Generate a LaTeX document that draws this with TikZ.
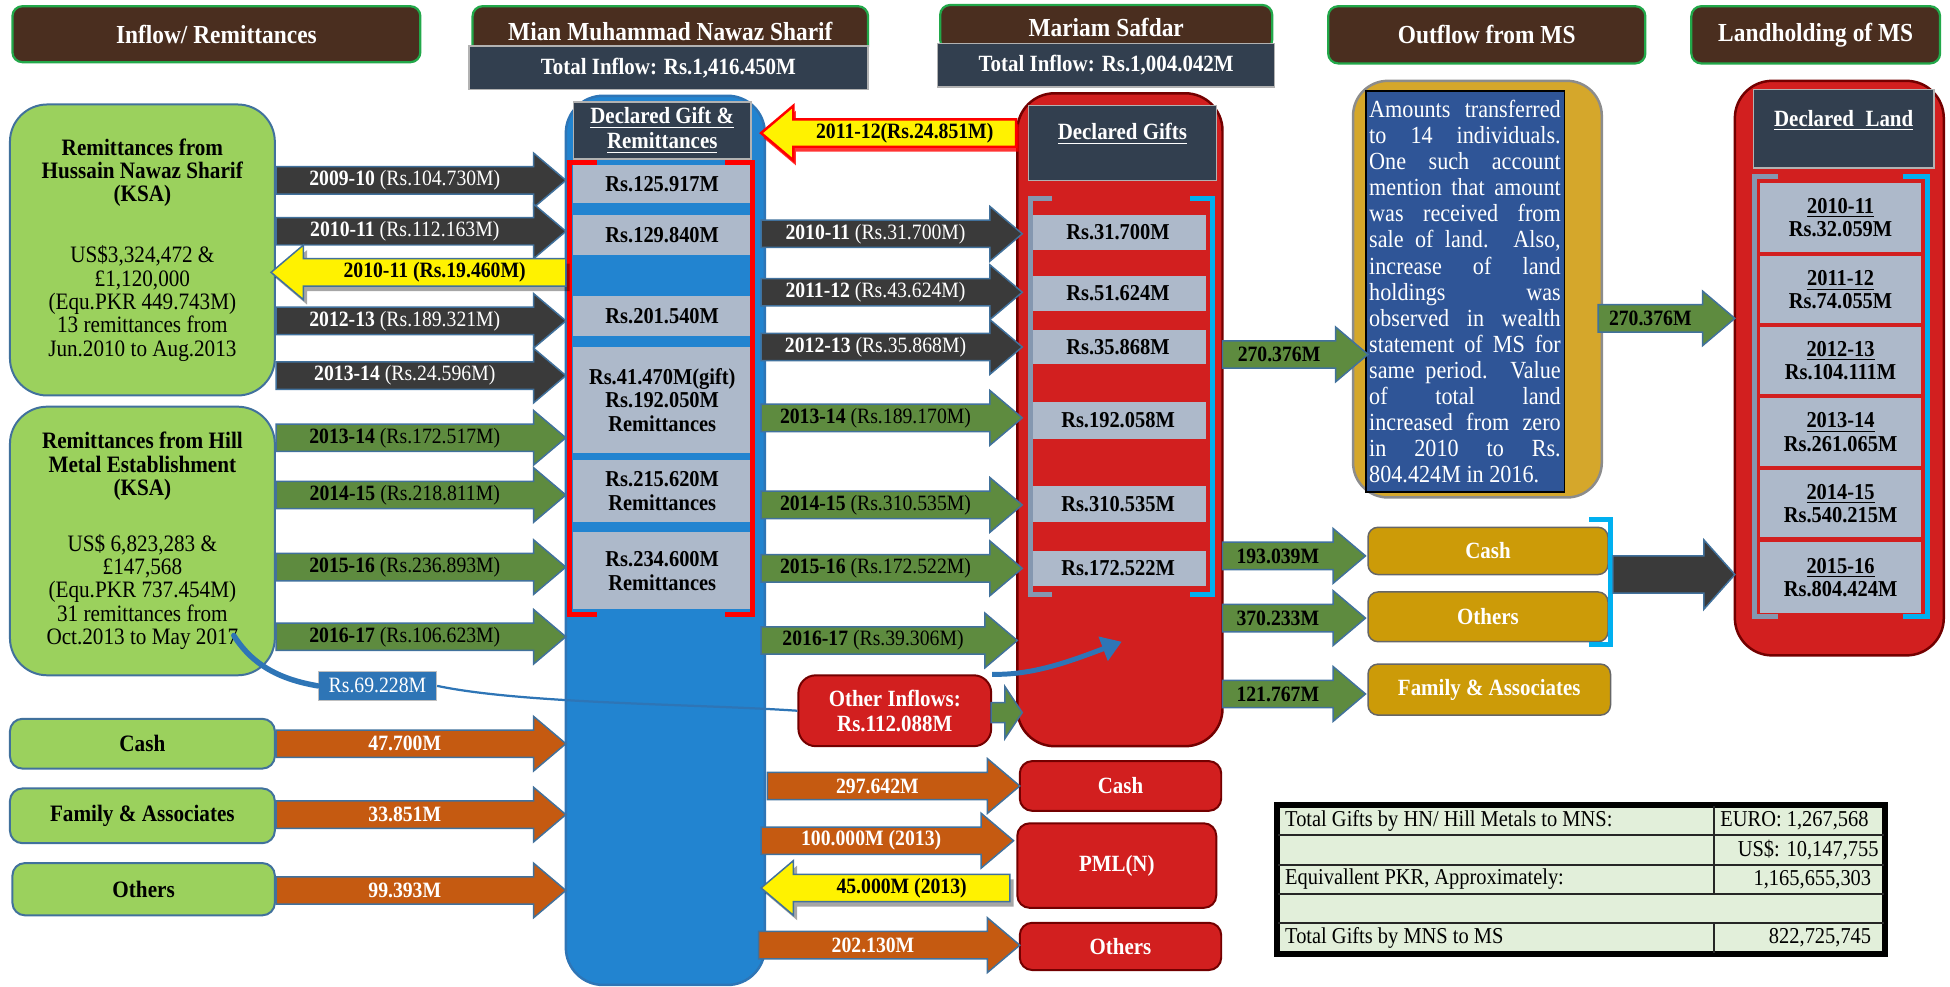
\documentclass[tikz,border=0pt]{standalone}
\usepackage{fontspec}
\setmainfont{Liberation Serif}[Scale=1.1, FakeStretch=0.9]
\usetikzlibrary{arrows.meta,shadows}

\definecolor{woodbrown}{HTML}{4A2E1F}
\definecolor{woodedge}{HTML}{22A84A}
\definecolor{slate}{HTML}{323F4F}
\definecolor{nsblue}{HTML}{2284D0}
\definecolor{msred}{HTML}{D21F1F}
\definecolor{cellgrey}{HTML}{ADB9CA}
\definecolor{leafgreen}{HTML}{9BD15D}
\definecolor{arrdark}{HTML}{3A3A3A}
\definecolor{arrgreen}{HTML}{5E8B3F}
\definecolor{arrorange}{HTML}{C55A11}
\definecolor{arredge}{HTML}{41719C}
\definecolor{goldframe}{HTML}{D5A72B}
\definecolor{goldbtn}{HTML}{CC9B08}
\definecolor{noteblue}{HTML}{2F5597}
\definecolor{callout}{HTML}{2E75B6}
\definecolor{brkgrey}{HTML}{8497B0}
\definecolor{brkcyan}{HTML}{00B0F0}
\definecolor{tablegreen}{HTML}{E2EFDA}

\tikzset{
  sz/.style 2 args={minimum width=#1*0.5pt, minimum height=#2*0.5pt},
  wood/.style={draw=woodedge, line width=0.9pt, fill=woodbrown, rounded corners=4pt,
    text=white, font=\fontsize{9.5}{11}\selectfont\bfseries},
  total/.style={draw=gray!60, line width=0.6pt, fill=slate, text=white,
    font=\fontsize{8.5}{10}\selectfont\bfseries},
  leaf/.style={draw=arredge, line width=0.8pt, fill=leafgreen, rounded corners=5pt,
    align=center, font=\fontsize{8.6}{9.4}\selectfont},
  column/.style={line width=1pt, rounded corners=15pt},
  head/.style={draw=gray!60, line width=0.6pt, fill=slate, text=white, align=center,
    font=\fontsize{8.5}{10}\selectfont\bfseries},
  cell/.style={fill=cellgrey, align=center, font=\fontsize{8.3}{9.5}\selectfont\bfseries},
  redbox/.style={draw=red!45!black, line width=0.8pt, fill=msred, rounded corners=5pt,
    text=white, align=center, font=\fontsize{8.5}{10}\selectfont\bfseries},
  goldbox/.style={draw=black!60, line width=0.6pt, fill=goldbtn, rounded corners=4pt,
    text=white, font=\fontsize{8.5}{10}\selectfont\bfseries},
  darkarr/.style={fill=arrdark, draw=arredge, line width=0.6pt},
  greenarr/.style={fill=arrgreen, draw=arredge, line width=0.6pt},
  orangearr/.style={fill=arrorange, draw=arredge, line width=0.6pt},
  yelarr/.style={fill=yellow, draw=arredge, line width=0.6pt,
    drop shadow={shadow xshift=1.5pt, shadow yshift=-2pt, fill=black, opacity=0.35}},
  redglow/.style={fill=yellow, draw=red, line width=1pt,
    drop shadow={shadow xshift=1pt, shadow yshift=-2pt, fill=red, opacity=0.8}},
  lblw/.style={text=white, font=\fontsize{8}{9.5}\selectfont},
  lblk/.style={text=black, font=\fontsize{8}{9.5}\selectfont},
  lblwb/.style={text=white, font=\fontsize{8}{9.5}\selectfont\bfseries},
  lblkb/.style={text=black, font=\fontsize{8}{9.5}\selectfont\bfseries},
  brk/.style={line width=2pt}
}

\newcommand{\rarrow}[7]{%
  \path[#5] (#2,#4-11) -- (#3-26,#4-11) -- (#3-26,#4-22) -- (#3,#4)
    -- (#3-26,#4+22) -- (#3-26,#4+11) -- (#2,#4+11) -- cycle;
  \node[#6] (#1) at ({(#2+#3-26)/2},#4) {#7};}
\newcommand{\larrow}[7]{%
  \path[#5] (#3,#4-11) -- (#2+26,#4-11) -- (#2+26,#4-22) -- (#2,#4)
    -- (#2+26,#4+22) -- (#2+26,#4+11) -- (#3,#4+11) -- cycle;
  \node[#6] (#1) at ({(#2+26+#3)/2},#4) {#7};}

\begin{document}
\begin{tikzpicture}[x=0.5pt, y=-0.5pt, inner sep=1pt]
\useasboundingbox (0,0) rectangle (1568,793);

\node[wood, sz={328}{45}] (hInflow) at (174,27.5) {Inflow/ Remittances};
\node[wood, sz={318}{40}] (hNS) at (539,25) {Mian Muhammad Nawaz Sharif};
\node[total, sz={321}{35}] (tNS) at (537.5,54.5) {Total Inflow: Rs.1,416.450M};
\node[wood, sz={267}{36}] (hMS) at (889.5,22) {Mariam Safdar};
\node[total, sz={271}{35}] (tMS) at (889.5,52.5) {Total Inflow: Rs.1,004.042M};
\node[wood, sz={255}{46}] (hOut) at (1195.5,28) {Outflow from MS};
\node[wood, sz={200}{46}] (hLand) at (1460,28) {Landholding of MS};

\node[leaf, sz={213}{234}, rounded corners=15pt] (hussain) at (114.5,201)
  {\textbf{Remittances from}\\\textbf{Hussain Nawaz Sharif}\\\textbf{(KSA)}\\[15pt]
   US\$3,324,472 \&\\£1,120,000\\(Equ.PKR 449.743M)\\13 remittances from\\Jun.2010 to Aug.2013};
\node[leaf, sz={213}{216}, rounded corners=15pt] (hill) at (114.5,435)
  {\textbf{Remittances from Hill}\\\textbf{Metal Establishment}\\\textbf{(KSA)}\\[13pt]
   US\$ 6,823,283 \&\\£147,568\\(Equ.PKR 737.454M)\\31 remittances from\\Oct.2013 to May 2017};
\node[leaf, sz={213}{40}, font=\fontsize{8.6}{9.4}\selectfont\bfseries] (cashIn) at (114.5,598) {Cash};
\node[leaf, sz={213}{44}, font=\fontsize{8.6}{9.4}\selectfont\bfseries] (famIn) at (114.5,656) {Family \& Associates};
\node[leaf, sz={211}{42}, font=\fontsize{8.6}{9.4}\selectfont\bfseries] (othIn) at (115.5,715) {Others};

\node[column, sz={160}{715}, fill=nsblue, draw=callout] (nsCol) at (535,434.5) {};
\node[head, sz={143}{46}] (nsHead) at (532.5,105) {\underline{Declared Gift \&}\\\underline{Remittances}};
\foreach \n/\yc/\h/\txt in {1/148/30/Rs.125.917M, 2/189/32/Rs.129.840M, 3/254/32/Rs.201.540M,
  4/321.5/85/{Rs.41.470M(gift)\\Rs.192.050M\\Remittances}, 5/395/50/{Rs.215.620M\\Remittances},
  6/459/62/{Rs.234.600M\\Remittances}}
  \node[cell, sz={143}{\h}] (ns\n) at (532.5,\yc) {\txt};
\draw[brk, red] (480,131) -- (458,131) -- (458,494) -- (480,494);
\draw[brk, red] (583,131) -- (605,131) -- (605,494) -- (583,494);

\node[column, sz={165}{525}, fill=msred, draw=red!45!black] (msCol) at (900.5,337.5) {};
\node[head, sz={151}{60}] (msHead) at (902.5,115) {};
\node[text=white, font=\fontsize{8.5}{10}\selectfont\bfseries] (msHeadT) at (902.5,108) {\underline{Declared Gifts}};
\foreach \n/\yc/\h/\txt in {1/187/28/Rs.31.700M, 2/236/28/Rs.51.624M, 3/279/28/Rs.35.868M,
  4/338/30/Rs.192.058M, 5/405.5/29/Rs.310.535M, 6/457/28/Rs.172.522M}
  \node[cell, sz={142}{\h}] (ms\n) at (899,\yc) {\txt};
\draw[brk, brkgrey] (846,160) -- (829,160) -- (829,478) -- (846,478);
\draw[brk, brkcyan] (957,160) -- (975,160) -- (975,478) -- (957,478);

\node[redbox, sz={155}{57}, rounded corners=7pt] (otherIn) at (719.5,571.5) {Other Inflows:\\Rs.112.088M};
\node[fill=callout, draw=gray!50, line width=0.5pt, text=white, sz={95}{23},
  font=\fontsize{8}{9.5}\selectfont] (v69) at (303.5,551.5) {Rs.69.228M};
\coordinate (hookA) at (188,511);
\coordinate (hookB) at (902,516);
\draw[callout, line width=2.2pt, line cap=round] (hookA) .. controls (205,538) and (230,547) .. (v69.west);
\draw[callout, line width=0.9pt] (v69.east) .. controls (420,566) and (560,566) .. (otherIn.west);
\draw[callout, line width=2pt, -{Triangle[width=10pt,length=8pt]}]
  (otherIn.north east) .. controls (830,543) and (860,532) .. (hookB);

\node[redbox, sz={162}{40}] (oCash) at (901,632) {Cash};
\node[redbox, sz={160}{68}] (oPml) at (898,696) {PML(N)};
\node[redbox, sz={162}{38}] (oOth) at (901,761) {Others};

\rarrow{a1}{222}{455}{145}{darkarr}{lblw}{\textbf{2009-10} (Rs.104.730M)}
\rarrow{a2}{222}{455}{186}{darkarr}{lblw}{\textbf{2010-11} (Rs.112.163M)}
\rarrow{a3}{222}{455}{258}{darkarr}{lblw}{\textbf{2012-13} (Rs.189.321M)}
\rarrow{a4}{222}{455}{302}{darkarr}{lblw}{\textbf{2013-14} (Rs.24.596M)}
\larrow{b1}{218}{455}{219}{yelarr}{lblkb}{2010-11 (Rs.19.460M)}
\rarrow{a5}{222}{455}{352}{greenarr}{lblk}{\textbf{2013-14} (Rs.172.517M)}
\rarrow{a6}{222}{455}{398}{greenarr}{lblk}{\textbf{2014-15} (Rs.218.811M)}
\rarrow{a7}{222}{455}{456}{greenarr}{lblk}{\textbf{2015-16} (Rs.236.893M)}
\rarrow{a8}{222}{455}{512}{greenarr}{lblk}{\textbf{2016-17} (Rs.106.623M)}
\rarrow{a9}{222}{455}{598}{orangearr}{lblwb}{47.700M}
\rarrow{a10}{222}{455}{655}{orangearr}{lblwb}{33.851M}
\rarrow{a11}{222}{455}{716}{orangearr}{lblwb}{99.393M}

\larrow{b2}{612}{817}{107}{redglow}{lblkb}{2011-12(Rs.24.851M)}
\rarrow{m1}{612}{822}{188}{darkarr}{lblw}{\textbf{2010-11} (Rs.31.700M)}
\rarrow{m2}{612}{822}{235}{darkarr}{lblw}{\textbf{2011-12} (Rs.43.624M)}
\rarrow{m3}{612}{822}{279}{darkarr}{lblw}{\textbf{2012-13} (Rs.35.868M)}
\rarrow{m4}{612}{822}{336}{greenarr}{lblk}{\textbf{2013-14} (Rs.189.170M)}
\rarrow{m5}{612}{822}{406}{greenarr}{lblk}{\textbf{2014-15} (Rs.310.535M)}
\rarrow{m6}{612}{822}{457}{greenarr}{lblk}{\textbf{2015-16} (Rs.172.522M)}
\rarrow{m7}{612}{818}{515}{greenarr}{lblk}{\textbf{2016-17} (Rs.39.306M)}
\path[greenarr] (797,565) -- (808,565) -- (808,552) -- (822,573) -- (808,594) -- (808,581) -- (797,581) -- cycle;
\rarrow{m8}{617}{820}{632}{orangearr}{lblwb}{297.642M}
\rarrow{m9}{612}{815}{676}{orangearr}{lblwb}{100.000M (2013)}
\larrow{b3}{612}{812}{714}{yelarr}{lblkb}{45.000M (2013)}
\rarrow{m10}{610}{820}{760}{orangearr}{lblwb}{202.130M}

\node[sz={200}{335}, fill=goldframe, draw=black!45, line width=1pt, rounded corners=14pt] (goldBox) at (1188,232.5) {};
\node[sz={160}{323}, fill=noteblue, draw=black, line width=0.8pt, text=white, align=left,
  font=\fontsize{9}{10.5}\selectfont] (note) at (1178,234.5)
  {\makebox[77pt][s]{Amounts transferred}\\\makebox[77pt][s]{to 14 individuals.}\\
   \makebox[77pt][s]{One such account}\\\makebox[77pt][s]{mention that amount}\\
   \makebox[77pt][s]{was received from}\\\makebox[77pt][s]{sale of land. Also,}\\
   \makebox[77pt][s]{increase of land}\\\makebox[77pt][s]{holdings was}\\
   \makebox[77pt][s]{observed in wealth}\\\makebox[77pt][s]{statement of MS for}\\
   \makebox[77pt][s]{same period. Value}\\\makebox[77pt][s]{of total land}\\
   \makebox[77pt][s]{increased from zero}\\\makebox[77pt][s]{in 2010 to Rs.}\\
   804.424M in 2016.};

\node[goldbox, sz={193}{38}] (gCash) at (1196.5,443) {Cash};
\node[goldbox, sz={193}{40}] (gOth) at (1196.5,496) {Others};
\node[goldbox, sz={195}{41}] (gFam) at (1197.5,554.5) {Family \& Associates};
\draw[brk, brkcyan] (1278,418) -- (1295,418) -- (1295,518) -- (1278,518);

\rarrow{r1}{983}{1100}{285}{greenarr}{lblkb}{270.376M}
\rarrow{r2}{983}{1098}{447}{greenarr}{lblkb}{193.039M}
\rarrow{r3}{983}{1098}{497}{greenarr}{lblkb}{370.233M}
\rarrow{r4}{983}{1098}{558}{greenarr}{lblkb}{121.767M}

\node[column, sz={168}{462}, fill=msred, draw=red!45!black] (landCol) at (1479,296) {};
\node[head, sz={145}{63}] (landHead) at (1482.5,103.5) {};
\node[text=white, font=\fontsize{8.5}{10}\selectfont\bfseries] (landHeadT) at (1482.5,97) {\underline{Declared\enspace Land}};
\foreach \n/\yc/\h/\txt in {1/175/56/{\underline{2010-11}\\Rs.32.059M}, 2/233/54/{\underline{2011-12}\\Rs.74.055M},
  3/290/54/{\underline{2012-13}\\Rs.104.111M}, 4/347.5/55/{\underline{2013-14}\\Rs.261.065M},
  5/405/54/{\underline{2014-15}\\Rs.540.215M}, 6/464.5/57/{\underline{2015-16}\\Rs.804.424M}}
  \node[cell, sz={130}{\h}] (land\n) at (1480,\yc) {\txt};
\draw[brk, brkgrey] (1430,142) -- (1411,142) -- (1411,496) -- (1430,496);
\draw[brk, brkcyan] (1530,142) -- (1550,142) -- (1550,496) -- (1530,496);

\rarrow{r5}{1285}{1395}{256}{greenarr}{lblkb}{270.376M}
\path[darkarr] (1297,447) -- (1370,447) -- (1370,434) -- (1395,462) -- (1370,490) -- (1370,477) -- (1297,477) -- cycle;

\node[fill=tablegreen, draw=black, line width=1.6pt, sz={487}{118}] (tbl) at (1271.5,707) {};
\foreach \yy in {671.6,695.2,718.8,742.4}
  \draw[line width=0.8pt, black!85] (1028,\yy) -- (1515,\yy);
\draw[line width=0.8pt, black!85] (1378,648) -- (1378,718.8) (1378,742.4) -- (1378,766);
\draw[line width=1.6pt] (tbl.north west) rectangle (tbl.south east);
\begin{scope}[every node/.style={font=\fontsize{8.3}{9.5}\selectfont}]
\node[anchor=west] (t1) at (1031,660) {Total Gifts by HN/ Hill Metals to MNS:};
\node[anchor=west] (t2) at (1381,660) {EURO: 1,267,568};
\node[anchor=east] (t3) at (1513,683.4) {US\$: 10,147,755};
\node[anchor=west] (t4) at (1031,707) {Equivallent PKR, Approximately:};
\node[anchor=east] (t5) at (1507,707) {1,165,655,303};
\node[anchor=west] (t6) at (1031,754.2) {Total Gifts by MNS to MS};
\node[anchor=east] (t7) at (1507,754.2) {822,725,745};
\end{scope}

\end{tikzpicture}
\end{document}
